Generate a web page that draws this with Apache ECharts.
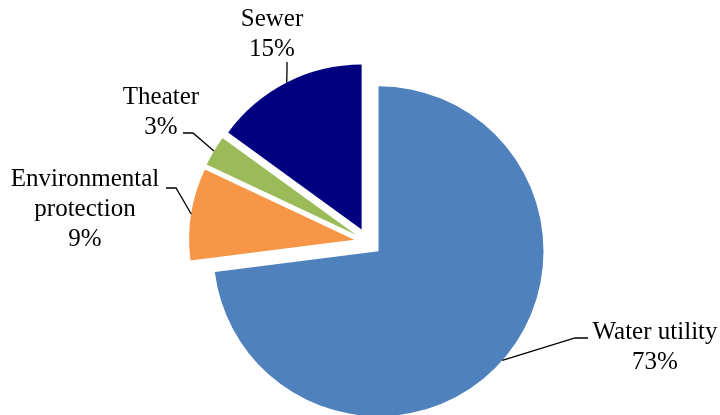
<!DOCTYPE html>
<html>
<head>
<meta charset="utf-8">
<script src="https://cdn.jsdelivr.net/npm/echarts@6/dist/echarts.min.js"></script>
<style>
html,body{margin:0;padding:0;background:#fff;}
#chart{width:720px;height:415px;}
</style>
</head>
<body>
<div id="chart"></div>
<script>
const categories = ['Water utility', 'Environmental protection', 'Theater', 'Sewer'];
const shares = [73, 9, 3, 15];
const sliceColors = ['#4F81BD', '#F79646', '#9BBB59', '#000080'];

// label placement (styling, not data)
const pieCenter = [368, 242];
const pieRadius = 165;
const explode = 14;
const labelPlace = {
  'Water utility': { x: 655, y: 347, end: [588, 338], elbow: [575, 338] },
  'Environmental protection': { x: 85, y: 209.5, end: [166, 188], elbow: [176, 188] },
  'Theater': { x: 161, y: 112, end: [183, 133], elbow: [193, 133] },
  'Sewer': { x: 272, y: 34, end: [287, 62], elbow: [287, 70] }
};

const chart = echarts.init(document.getElementById('chart'), null, { renderer: 'canvas' });

const slices = categories.map((name, i) => ({
  name: name,
  value: shares[i],
  selected: true,
  itemStyle: { color: sliceColors[i] }
}));
const labelCarriers = categories.map((name, i) => ({
  name: name,
  value: shares[i],
  itemStyle: { color: 'rgba(0,0,0,0)' }
}));

chart.setOption({
  animation: false,
  backgroundColor: '#ffffff',
  series: [{
    type: 'pie',
    center: pieCenter,
    radius: [0, pieRadius],
    startAngle: 90,
    clockwise: true,
    selectedMode: 'multiple',
    selectedOffset: explode,
    emphasis: { disabled: true },
    silent: true,
    data: slices,
    label: { show: false },
    labelLine: { show: false }
  }, {
    type: 'pie',
    center: pieCenter,
    radius: [0, pieRadius],
    startAngle: 90,
    clockwise: true,
    selectedMode: false,
    avoidLabelOverlap: false,
    emphasis: { disabled: true },
    silent: true,
    z: 5,
    data: labelCarriers,
    label: {
      show: true,
      position: 'outside',
      fontFamily: 'Liberation Serif',
      fontSize: 25,
      lineHeight: 30,
      color: '#000',
      formatter: function (p) {
        return p.name.replace('Environmental ', 'Environmental\n') + '\n' + p.value + '%';
      }
    },
    labelLine: {
      show: true,
      length: 10,
      length2: 10,
      lineStyle: { color: '#000', width: 1.3 }
    },
    labelLayout: function (params) {
      const name = categories[params.dataIndex];
      const pl = labelPlace[name];
      const pts = params.labelLinePoints;
      let start = pl.elbow;
      if (pts) {
        const vx = pts[0][0] - pieCenter[0];
        const vy = pts[0][1] - pieCenter[1];
        const len = Math.sqrt(vx * vx + vy * vy) || 1;
        start = [pts[0][0] + vx / len * explode, pts[0][1] + vy / len * explode];
      }
      return {
        x: pl.x,
        y: pl.y,
        align: 'center',
        verticalAlign: 'middle',
        labelLinePoints: [start, pl.elbow, pl.end]
      };
    }
  }]
});
</script>
</body>
</html>
